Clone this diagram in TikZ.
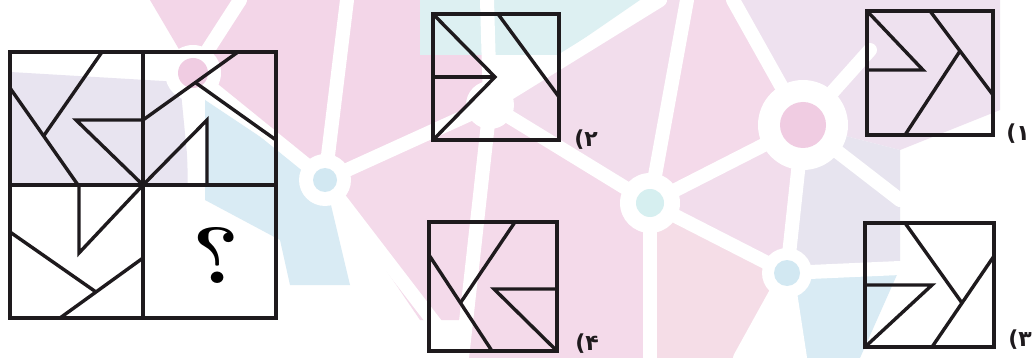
\documentclass[tikz,border=0pt]{standalone}
\usepackage{fontspec}
\newfontfamily\arabicfont[Script=Arabic]{DejaVu Sans}
\newfontfamily\parfont{DejaVu Sans}
\definecolor{ink}{HTML}{1E1A1D}
\definecolor{lavA}{HTML}{E8E4F0}
\definecolor{pinkA}{HTML}{F3D6E8}
\definecolor{pinkB}{HTML}{F4DAEA}
\definecolor{pinkC}{HTML}{F2DDEC}
\definecolor{pinkD}{HTML}{F5DDE7}
\definecolor{blueA}{HTML}{D9EBF4}
\definecolor{tealA}{HTML}{DDF0F2}
\definecolor{lavB}{HTML}{EEE1EF}
\definecolor{grayA}{HTML}{E7E4EF}
\definecolor{dotpink}{HTML}{F0CCE2}
\definecolor{dotblue}{HTML}{D2E8F2}
\definecolor{dotteal}{HTML}{D6EFF0}
\begin{document}
\begin{tikzpicture}[x=1pt,y=-1pt,
  fig/.style={line width=3.4pt, draw=ink, line join=miter},
  band/.style={line width=14pt, draw=white, line cap=round},
  lbl/.style={font=\bfseries\fontsize{22}{22}\selectfont, inner sep=0pt, text=ink}]
\useasboundingbox (0,0) rectangle (1035,358);
\fill[white] (0,0) rectangle (1035,358);
% ---------- faint watermark ----------
\coordinate (P0) at (193,73);
\coordinate (N1) at (325,180);
\coordinate (N5) at (490,105);
\coordinate (N2) at (650,203);
\coordinate (N3) at (803,125);
\coordinate (N4) at (787,273);
\fill[lavA] (10,72) -- (180,82) -- (190,185) -- (10,185) -- cycle;
\fill[pinkA] (150,0) -- (347,0) -- (N1) -- (P0) -- cycle;
\fill[blueA] (205,100) -- (N1) -- (350,285) -- (290,285) -- (280,240) -- (205,200) -- cycle;
\fill[pinkA] (347,0) -- (487,0) -- (N5) -- (N1) -- cycle;
\fill[pinkB] (N1) -- (N5) -- (465,320) -- (420,320) -- cycle;
\fill[tealA] (420,0) -- (640,0) -- (560,55) -- (420,55) -- cycle;
\fill[pinkB] (N5) -- (N2) -- (650,358) -- (462,358) -- cycle;
\fill[pinkC] (N5) -- (660,0) -- (687,0) -- (N2) -- cycle;
\fill[pinkB] (687,0) -- (733,0) -- (N3) -- (N2) -- cycle;
\fill[lavB] (733,0) -- (1000,0) -- (1000,110) -- (900,150) -- (N3) -- cycle;
\fill[pinkC] (N2) -- (N3) -- (N4) -- cycle;
\fill[grayA] (N3) -- (900,150) -- (900,265) -- (N4) -- cycle;
\fill[pinkD] (N2) -- (N4) -- (740,358) -- (650,358) -- cycle;
\fill[blueA] (N4) -- (900,268) -- (860,358) -- (800,358) -- cycle;
\foreach \a/\b in {P0/{0,62},P0/{195,200},P0/N1,P0/{240,0},N1/{347,0},N1/N5,
  N1/{440,330},N5/{487,0},N5/{462,358},N5/N2,N5/{660,0},N2/{687,0},N2/N3,N2/N4,
  N2/{650,358},N3/{733,0},N3/{870,50},N3/{900,200},N3/N4,N4/{740,358},N4/{800,358},N4/{900,268}}
  \draw[band] (\a) -- (\b);
\fill[white] (P0) circle[radius=28pt];  \fill[dotpink] (P0) circle[radius=15pt];
\fill[white] (N1) circle[radius=26pt];  \fill[dotblue] (N1) circle[radius=12pt];
\fill[white] (N5) circle[radius=24pt];
\fill[white] (N2) circle[radius=30pt];  \fill[dotteal] (N2) circle[radius=14pt];
\fill[white] (N3) circle[radius=45pt];  \fill[dotpink] (N3) circle[radius=23pt];
\fill[white] (N4) circle[radius=25pt];  \fill[dotblue] (N4) circle[radius=13pt];
% ---------- main 2x2 grid ----------
\begin{scope}[shift={(10,52)}]
  \draw[fig] (0,0) rectangle (266,266);
  \draw[fig] (133,0) -- (133,266);
  \draw[fig] (0,133) -- (266,133);
  % top-left cell
  \draw[fig] (92,0) -- (33.6,84);
  \draw[fig] (0,36) -- (68,133);
  \draw[fig] (133,68) -- (66,68) -- (133,133);
  % top-right cell
  \draw[fig] (228,0) -- (133,68);
  \draw[fig] (186,31) -- (266,88);
  \draw[fig] (133,133) -- (197,68) -- (197,133);
  % bottom-left cell
  \draw[fig] (69,133) -- (69,201) -- (133,133);
  \draw[fig] (0,180) -- (86,240);
  \draw[fig] (50,266) -- (133,206);
  \node (q) at (206,203) {\scalebox{-1.1}[1]{\fontsize{80}{80}\selectfont\bfseries ?}};
\end{scope}
% ---------- option 2 ----------
\begin{scope}[shift={(433,14)}]
  \draw[fig] (0,0) rectangle (126,126);
  \draw[fig] (0,0) -- (62,63) -- (0,126);
  \draw[fig] (0,63) -- (62,63);
  \draw[fig] (65,0) -- (126,83);
\end{scope}
\node[lbl] (l2) at (586,140) {{\parfont(}{\arabicfont ۲}};
% ---------- option 4 ----------
\begin{scope}[shift={(429,222)}]
  \draw[fig] (0,0) rectangle (128,129);
  \draw[fig] (86,0) -- (31.4,80.9);
  \draw[fig] (0,33) -- (63,129);
  \draw[fig] (128,129) -- (65,67) -- (128,67);
\end{scope}
\node[lbl] (l4) at (587,344) {{\parfont(}{\arabicfont ۴}};
% ---------- option 1 ----------
\begin{scope}[shift={(867,11)}]
  \draw[fig] (0,0) rectangle (126,124);
  \draw[fig] (0,0) -- (56,59) -- (0,59);
  \draw[fig] (63,0) -- (126,84);
  \draw[fig] (93,40) -- (38,124);
\end{scope}
\node[lbl] (l1) at (1018,134) {{\parfont(}{\arabicfont ۱}};
\begin{scope}[shift={(865,223)}]
  \draw[fig] (0,0) rectangle (129,124);
  \draw[fig] (40,0) -- (97,80);
  \draw[fig] (129,33) -- (67,124);
  \draw[fig] (0,62) -- (67,62) -- (0,124);
\end{scope}
\node[lbl] (l3) at (1020,340) {{\parfont(}{\arabicfont ۳}};
\end{tikzpicture}
\end{document}
